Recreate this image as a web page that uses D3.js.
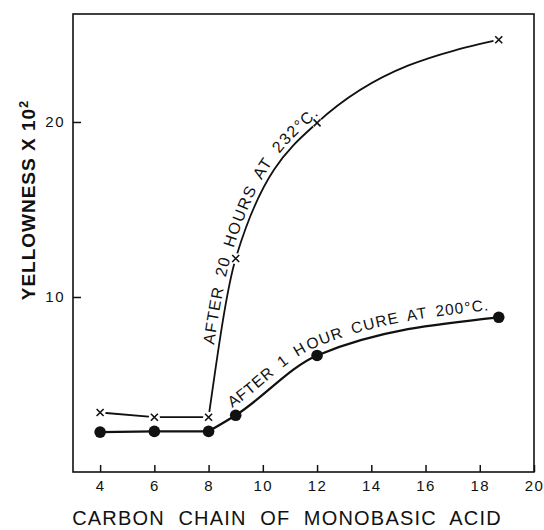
<!DOCTYPE html>
<html>
<head>
<meta charset="utf-8">
<script src="https://cdn.jsdelivr.net/npm/d3@7"></script>
<style>
  body { margin: 0; background: #fff; }
  text { font-family: "Liberation Sans", Arial, sans-serif; fill: #111; }
</style>
</head>
<body>
<svg id="chart" width="544" height="530"></svg>
<script>
// Carbon chain length of the monobasic acid and the measured yellowness (x 10^2)
const carbonChain = [4, 6, 8, 9, 12, 18.7];
const after20Hours232 = [3.4, 3.13, 3.13, 12.2, 19.95, 24.7];
const after1HourCure200 = [2.28, 2.32, 2.32, 3.24, 6.66, 8.84];
const xTickValues = [4, 6, 8, 10, 12, 14, 16, 18, 20];
const yTickValues = [10, 20];
const upperLabel = "AFTER 20 HOURS AT 232°C.";
const lowerLabel = "AFTER 1 HOUR CURE AT 200°C.";
const xTitle = "CARBON  CHAIN  OF  MONOBASIC  ACID";

const W = 544, H = 530;
const margin = { top: 14, right: 10, bottom: 58, left: 73 };
const svg = d3.select("#chart");

const x = d3.scaleLinear().domain([3, 20]).range([margin.left, W - margin.right]);
const y = d3.scaleLinear().domain([0, 26.17]).range([H - margin.bottom, margin.top]);

const ink = "#111";

// frame
svg.append("rect")
  .attr("x", x(3)).attr("y", y(26.17))
  .attr("width", x(20) - x(3)).attr("height", y(0) - y(26.17))
  .attr("fill", "none").attr("stroke", ink).attr("stroke-width", 1.6);

// axes with inward ticks
const xAxis = svg.append("g")
  .attr("transform", `translate(0,${y(0)})`)
  .call(d3.axisBottom(x).tickValues(xTickValues).tickSize(-7).tickPadding(8).tickFormat(d3.format("d")));
const yAxis = svg.append("g")
  .attr("transform", `translate(${x(3)},0)`)
  .call(d3.axisLeft(y).tickValues(yTickValues).tickSize(-8).tickPadding(8).tickFormat(d3.format("d")));
[xAxis, yAxis].forEach(g => {
  g.select(".domain").remove();
  g.selectAll(".tick line").attr("stroke", ink).attr("stroke-width", 1.5);
  g.selectAll(".tick text")
    .attr("fill", ink)
    .style("font-family", '"Liberation Sans", Arial, sans-serif')
    .style("font-size", "15px")
    .style("letter-spacing", "1.5px");
});

// series split into the flat run (C4-C8) and the rising run (C8 onward)
const pts = vals => carbonChain.map((c, i) => [c, vals[i]]);
const upperPts = pts(after20Hours232);
const lowerPts = pts(after1HourCure200);

const flatLine = d3.line().x(d => x(d[0])).y(d => y(d[1])).curve(d3.curveLinear);
const riseLine = d3.line().x(d => x(d[0])).y(d => y(d[1])).curve(d3.curveMonotoneX);

function drawSeries(p, id, width) {
  svg.append("path").attr("d", flatLine(p.slice(0, 3)))
    .attr("fill", "none").attr("stroke", ink).attr("stroke-width", width);
  svg.append("path").attr("id", id).attr("d", riseLine(p.slice(2)))
    .attr("fill", "none").attr("stroke", ink).attr("stroke-width", width);
}
drawSeries(upperPts, "rise-upper", 1.8);
drawSeries(lowerPts, "rise-lower", 2.3);

// white halos leave small gaps in the line around each cross
svg.append("g").selectAll("circle").data(upperPts).join("circle")
  .attr("cx", d => x(d[0])).attr("cy", d => y(d[1])).attr("r", 5.5).attr("fill", "#fff");
svg.append("g").selectAll("path").data(upperPts).join("path")
  .attr("transform", d => `translate(${x(d[0])},${y(d[1])})`)
  .attr("d", "M-3.5,-3.5L3.5,3.5M-3.5,3.5L3.5,-3.5")
  .attr("stroke", ink).attr("stroke-width", 1.6);

// filled dots for the 1-hour cure
svg.append("g").selectAll("circle").data(lowerPts).join("circle")
  .attr("cx", d => x(d[0])).attr("cy", d => y(d[1])).attr("r", 5.8).attr("fill", ink);

// curve labels running along each rising curve
function curveLabel(id, label, offset, dy, size, spacing, wordGap) {
  svg.append("text")
    .style("font-size", size + "px")
    .style("letter-spacing", spacing + "px")
    .style("word-spacing", wordGap + "px")
    .append("textPath")
    .attr("href", "#" + id)
    .attr("startOffset", offset)
    .append("tspan").attr("dy", dy)
    .text(label);
}
curveLabel("rise-upper", upperLabel, 72, -5, 16, 1.2, 4);
curveLabel("rise-lower", lowerLabel, 33, -8, 15.5, 1.0, 3);

// axis titles
const yt = svg.append("text")
  .attr("transform", "translate(28,200) rotate(-90)")
  .attr("text-anchor", "middle")
  .attr("dy", "0.36em")
  .style("font-size", "19px").style("font-weight", "bold").style("letter-spacing", "1px");
yt.append("tspan").text("YELLOWNESS X 10");
yt.append("tspan").attr("dy", "-0.5em").style("font-size", "13px").text("2");

svg.append("text")
  .attr("x", 287).attr("y", 525)
  .attr("text-anchor", "middle")
  .style("font-size", "20px").style("letter-spacing", "1.2px")
  .style("white-space", "pre")
  .text(xTitle);
</script>
</body>
</html>
